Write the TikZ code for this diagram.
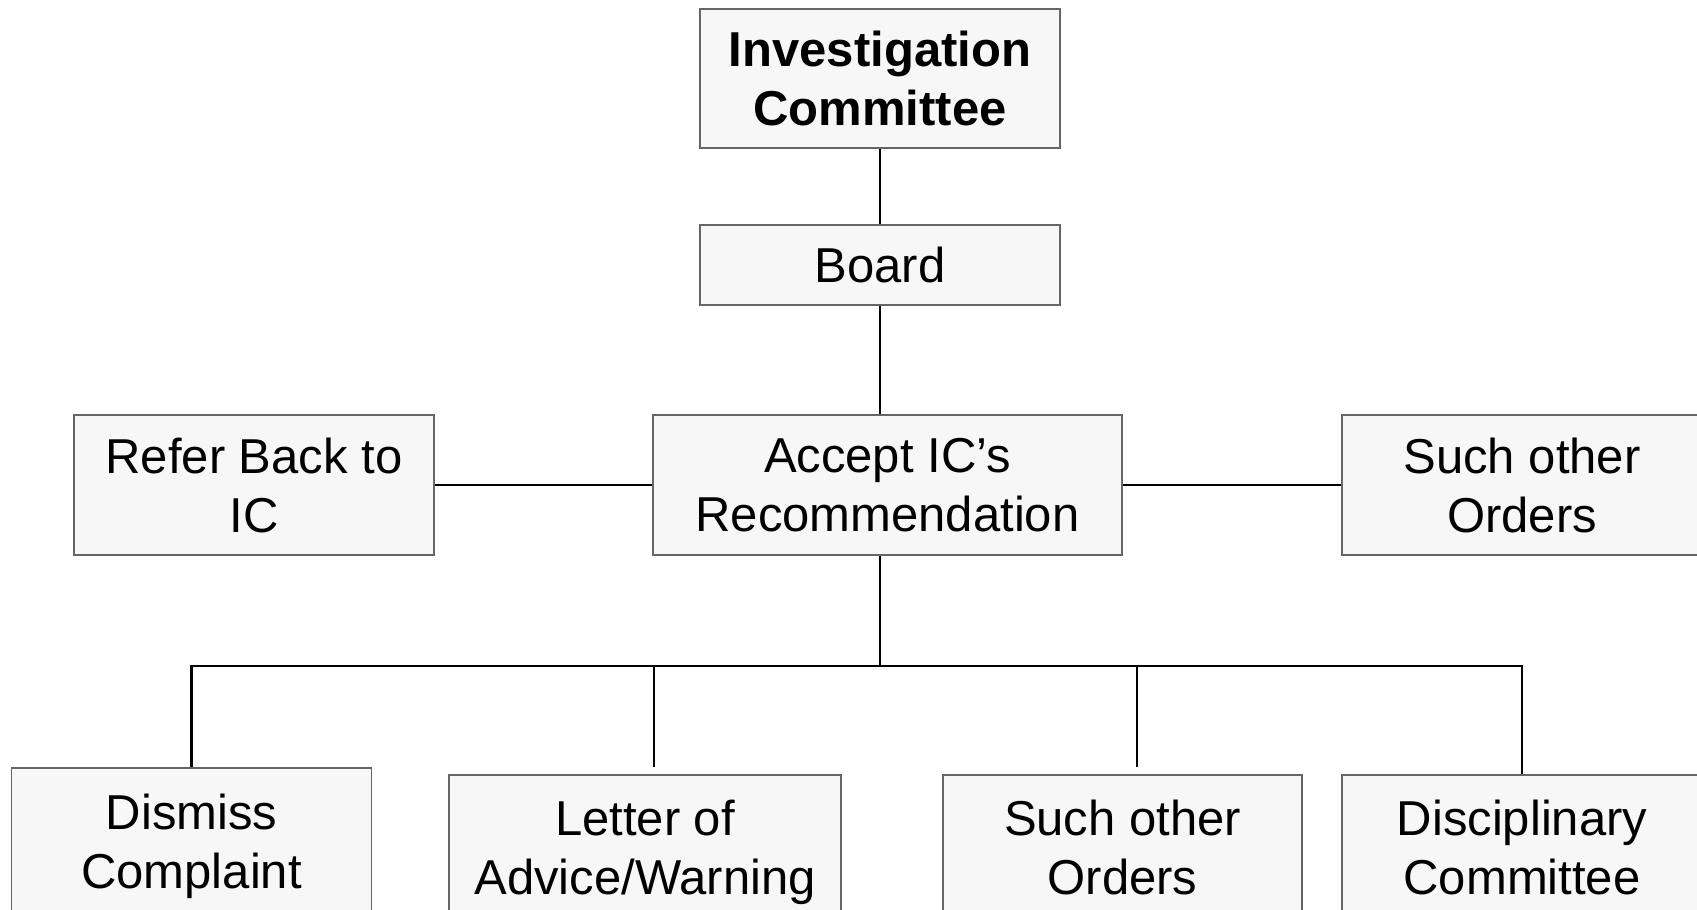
\documentclass[tikz,border=0pt]{standalone}
\usepackage{fontspec}
\setmainfont{Liberation Sans}
\usetikzlibrary{positioning,calc}

\begin{document}
\begin{tikzpicture}[x=1pt, y=-1pt, font=\fontsize{49}{59}\selectfont,
  box/.style={draw=black!60, fill=black!3, line width=1.2pt, align=center, inner sep=0pt, minimum width=360pt, minimum height=140pt},
  link/.style={draw=black, line width=2.8pt}]
  \useasboundingbox (0,0) rectangle (1697,910);
  % top of the chart
  \node[box, minimum height=139pt] (ic) at (880,78.5) {\bfseries Investigation\\\bfseries Committee};
  \node[box, minimum height=80pt] (board) at (880,265) {Board};
  % middle row
  \node[box, minimum width=469pt] (accept) at (887.5,485) {Accept IC’s\\Recommendation};
  \node[box] (refer) at (254,485) {Refer Back to\\IC};
  \node[box] (suchR) at (1522,485) {Such other\\Orders};
  % bottom row, cut off by the page edge
  \node[box, minimum height=156pt] (dismiss) at (191.5,846) {Dismiss\\Complaint};
  \node[box, minimum width=392pt, minimum height=155pt] (letter) at (645,852.5) {Letter of\\Advice/Warning};
  \node[box, minimum width=359pt, minimum height=145pt] (suchB) at (1122.5,847.5) {Such other\\Orders};
  \node[box, minimum height=145pt] (disc) at (1522,847.5) {Disciplinary\\Committee};
  \coordinate (bus) at (880,666);
  \coordinate (dropB) at (654,666);
  \coordinate (dropC) at (1137,666);
  \draw[link] (ic) -- (board);
  \draw[link] (board.south) -- (board.south |- accept.north);
  \draw[link] (refer) -- (accept);
  \draw[link] (accept) -- (suchR);
  \draw[link] (board.south |- accept.south) -- (bus);
  \draw[link] (dismiss.north) |- (bus) -| (disc.north);
  \draw[link] (dropB) -- (dropB |- dismiss.north);
  \draw[link] (dropC) -- (dropC |- dismiss.north);
\end{tikzpicture}
\end{document}
